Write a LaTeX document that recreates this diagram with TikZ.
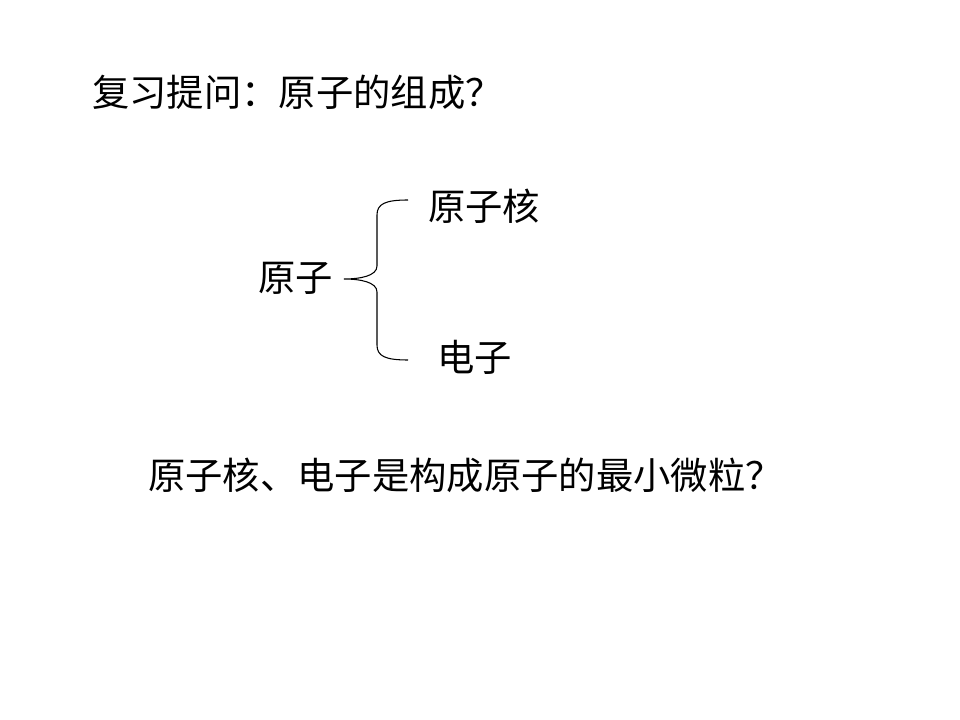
\documentclass[tikz,border=0pt]{standalone}
\usepackage{fontspec}
\newfontfamily\cjk{Noto Sans CJK SC}
\begin{document}
\begin{tikzpicture}[x=0.75pt,y=-0.75pt,
  txt/.style={anchor=west,inner sep=0pt,font=\cjk\fontsize{28}{33}\selectfont},
  bracestyle/.style={draw=black,line width=0.8pt}]
\useasboundingbox (0,0) rectangle (960,720);
\node[txt] (title) at (92,92) {复习提问：原子的组成？};
\node[txt] (atom) at (258,278) {原子};
\node[txt] (nucleus) at (428,206) {原子核};
\node[txt] (electron) at (437,357) {电子};
\node[txt] (question) at (148,475) {原子核、电子是构成原子的最小微粒？};
\coordinate (btop) at (408,200);
\coordinate (tip) at (344,279);
\coordinate (bbot) at (408,360);
\draw[bracestyle] (btop) .. controls (385,200) and (377,204) .. (377,215)
  -- (377,266) .. controls (377,276) and (360,279) .. (tip)
  .. controls (360,279) and (377,282) .. (377,292)
  -- (377,345) .. controls (377,356) and (385,360) .. (bbot);
\end{tikzpicture}
\end{document}
